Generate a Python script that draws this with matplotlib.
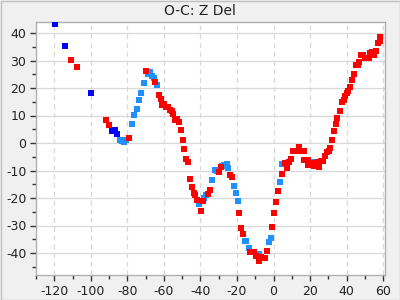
import matplotlib
matplotlib.use("Agg")
import matplotlib.pyplot as plt
from matplotlib.ticker import MultipleLocator
from matplotlib.patches import Rectangle

plt.rcParams["axes.unicode_minus"] = False

# dark blue series
blue_x = [-119.7, -114.2, -100.0, -88.3, -86.9, -85.8]
blue_y = [43.2, 35.3, 18.2, 4.4, 4.7, 3.3]

# light blue series
lblue_x = [-84.2, -83.1, -82.0, -80.9, -77.6, -76.5, -74.9, -73.8, -72.7, -71.0,
           -68.9, -67.8, -66.7, -65.6, -63.9, -41.0, -37.8, -37.2, -33.9, -32.2,
           -31.1, -28.4, -27.3, -25.7, -25.1, -21.9, -20.8, -19.7, -15.8, -14.8,
           -13.7, -8.2, -2.7, -1.6, 3.3, 4.9, 22.4]
lblue_y = [1.1, 0.6, 0.4, 1.1, 6.9, 10.2, 12.4, 15.6, 18.2, 21.8,
           25.1, 25.8, 24.4, 23.6, 21.1, -22.2, -20.0, -18.9, -13.5, -9.8,
           -10.2, -8.4, -8.0, -7.6, -9.1, -15.6, -18.2, -21.1, -35.6, -35.6,
           -38.2, -40.4, -36.0, -34.5, -14.2, -7.6, -6.9]

# red series
red_x = [-110.9, -107.7, -91.8, -90.2, -79.2, -69.9, -65.0, -62.8, -61.7, -61.2,
         -60.1, -59.0, -57.9, -56.8, -55.7, -55.2, -54.1, -53.0, -51.9, -50.8,
         -49.7, -49.2, -48.1, -47.0, -45.9, -44.8, -43.7, -43.2, -42.1, -39.9,
         -38.8, -36.1, -35.0, -30.1, -29.0, -24.0, -23.0, -19.1, -18.0, -16.9,
         -13.1, -10.9, -9.8, -7.7, -6.6, -4.9, -3.8, -1.1, 0.0, 1.1,
         2.2, 4.4, 6.0, 7.1, 8.2, 9.3, 10.4, 12.0, 14.2, 15.3,
         16.4, 16.9, 18.6, 19.1, 20.8, 21.9, 23.5, 24.6, 25.1, 26.2,
         27.3, 28.4, 29.0, 30.1, 31.1, 32.2, 33.3, 34.4, 35.0, 36.1,
         37.2, 38.3, 39.3, 40.4, 41.0, 42.1, 43.2, 44.3, 45.4, 46.4,
         47.0, 48.1, 49.2, 50.3, 51.4, 52.5, 53.0, 54.1, 55.2, 56.3,
         57.4, 58.5, 58.5]
red_y = [30.2, 27.6, 8.4, 6.5, 1.9, 26.2, 22.2, 17.5, 16.0, 13.8,
         14.2, 13.1, 13.1, 12.0, 11.6, 10.5, 8.4, 8.7, 7.6, 4.7,
         1.1, -2.2, -5.8, -6.9, -13.1, -16.0, -18.2, -18.9, -20.7, -24.7,
         -21.1, -18.5, -17.1, -10.5, -8.7, -11.6, -12.4, -25.5, -30.9, -33.1,
         -39.6, -39.6, -41.1, -42.9, -41.5, -41.8, -39.3, -30.5, -25.5, -21.5,
         -17.5, -11.3, -7.3, -9.1, -6.9, -5.8, -2.9, -2.9, -1.5, -2.9,
         -2.9, -6.2, -6.2, -8.0, -7.3, -8.4, -8.0, -6.9, -8.7, -6.5,
         -6.5, -4.7, -3.3, -2.9, -1.8, 1.1, 4.4, 6.9, 9.1, 11.6,
         14.9, 15.6, 17.1, 18.2, 18.9, 20.4, 22.9, 25.1, 28.4, 28.4,
         29.5, 32.0, 32.0, 30.9, 30.9, 30.9, 32.7, 33.1, 32.0, 33.5,
         36.4, 37.1, 38.5]

title = "O-C: Z Del"

fig = plt.figure(figsize=(4, 3), dpi=100, facecolor="#f0f0f0")
fig.patches.append(Rectangle((0.5/400, 0.5/300), 399/400, 299/300, transform=fig.transFigure,
                             fill=False, edgecolor="#c0c0c0", linewidth=1))
ax = fig.add_axes([36/400, 25/300, 349/400, 253/300])
ax.set_facecolor("white")

ms = 4.3
ax.plot(lblue_x, lblue_y, "s", color="#1e90ff", ms=ms, mew=0, zorder=3)
ax.plot(blue_x, blue_y, "s", color="#0000ff", ms=ms, mew=0, zorder=3)
ax.plot(red_x, red_y, "s", color="#ff0000", ms=ms, mew=0, zorder=4)

ax.set_xlim(-130, 61)
ax.set_ylim(-48, 44)
ax.xaxis.set_major_locator(MultipleLocator(20))
ax.xaxis.set_minor_locator(MultipleLocator(10))
ax.yaxis.set_major_locator(MultipleLocator(10))
ax.yaxis.set_minor_locator(MultipleLocator(5))

ax.grid(True, axis="x", which="major", color="#d8d8d8", linestyle=(0, (4, 3)), linewidth=0.9)
ax.grid(True, axis="y", which="major", color="#d8d8d8", linestyle="-", linewidth=0.9)
ax.set_axisbelow(True)

for s in ax.spines.values():
    s.set_color("#b0b0b0")
    s.set_linewidth(1)

ax.tick_params(axis="both", which="major", direction="out", length=4, width=1,
               color="#333333", labelsize=9, labelcolor="#222222", pad=3)
ax.tick_params(axis="both", which="minor", direction="out", length=3, width=1,
               color="#333333")
ax.tick_params(axis="x", which="both", top=False)
ax.tick_params(axis="y", which="both", right=False)

fig.text(0.5, 1 - 11/300, title, ha="center", va="center", fontsize=10, color="#222222")

fig.savefig("out.png", dpi=100, facecolor=fig.get_facecolor())
